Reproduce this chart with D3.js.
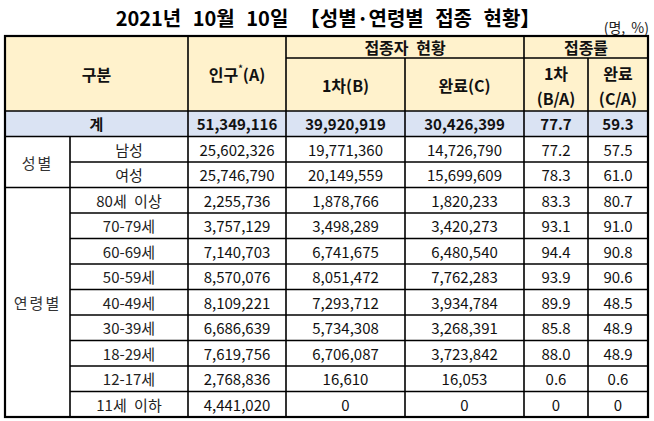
<!DOCTYPE html>
<html>
<head>
<meta charset="utf-8">
<script src="https://cdn.jsdelivr.net/npm/d3@7"></script>
<style>
  body { margin: 0; background: #fff; }
  text { font-family: "Noto Sans CJK KR", "Noto Sans", sans-serif; }
</style>
</head>
<body>
<svg id="tbl" width="654" height="421"></svg>
<script>
// Table values.
var groups = ['성별', '연령별'];
var groupSizes = [2, 9];
var categories = ['남성', '여성', '80세 이상', '70-79세', '60-69세', '50-59세',
  '40-49세', '30-39세', '18-29세', '12-17세', '11세 이하'];
var population = [25602326, 25746790, 2255736, 3757129, 7140703, 8570076,
  8109221, 6686639, 7619756, 2768836, 4441020];
var firstDose = [19771360, 20149559, 1878766, 3498289, 6741675, 8051472,
  7293712, 5734308, 6706087, 16610, 0];
var completed = [14726790, 15699609, 1820233, 3420273, 6480540, 7762283,
  3934784, 3268391, 3723842, 16053, 0];
var rateFirst = ['77.2', '78.3', '83.3', '93.1', '94.4', '93.9', '89.9', '85.8', '88.0', '0.6', '0'];
var rateDone = ['57.5', '61.0', '80.7', '91.0', '90.8', '90.6', '48.5', '48.9', '48.9', '0.6', '0'];
var total = { label: '계', population: 51349116, first: 39920919, done: 30426399, r1: '77.7', r2: '59.3' };

var svg = d3.select('#tbl');
var fmt = d3.format(',');

// Column edges and header row edges.
var cx = [5, 70, 188, 286, 405, 524, 588, 648];
var tblTop = 36, headMid = 58, headBot = 111, totBot = 136.5, tblBot = 417;

var y = d3.scaleBand()
  .domain(d3.range(categories.length))
  .range([totBot, tblBot]);

function mid(a, b) { return (a + b) / 2; }

// Header and total-row fills.
svg.append('rect').attr('x', cx[0]).attr('y', tblTop)
  .attr('width', cx[7] - cx[0]).attr('height', headBot - tblTop).attr('fill', '#fff2cc');
svg.append('rect').attr('x', cx[0]).attr('y', headBot)
  .attr('width', cx[7] - cx[0]).attr('height', totBot - headBot).attr('fill', '#dae3f3');

// Title.
svg.append('text').attr('x', 328).attr('y', 26).attr('text-anchor', 'middle')
  .attr('font-size', 20).attr('font-weight', 'bold').attr('fill', '#000')
  .attr('word-spacing', 7)
  .text('2021년 10월 10일 【성별·연령별 접종 현황】');
svg.append('text').attr('x', 649).attr('y', 33).attr('text-anchor', 'end')
  .attr('font-size', 14).attr('fill', '#222').attr('word-spacing', 3).text('(명, %)');

function cell(x0, x1, yc, str, bold, color) {
  return svg.append('text')
    .attr('x', mid(x0, x1)).attr('y', yc)
    .attr('text-anchor', 'middle').attr('dominant-baseline', 'central')
    .attr('font-size', 15).attr('font-weight', bold ? 'bold' : 'normal')
    .attr('fill', color || '#111').text(str);
}

// Header texts.
cell(cx[0], cx[2], mid(tblTop, headBot), '구분', true).attr('font-size', 16);
var pop = cell(cx[2], cx[3], mid(tblTop, headBot), null, true).attr('font-size', 16);
pop.append('tspan').text('인구');
pop.append('tspan').attr('font-size', 9).attr('dy', -6).text('*');
pop.append('tspan').attr('dy', 6).text('(A)');
cell(cx[3], cx[5], mid(tblTop, headMid), '접종자 현황', true).attr('font-size', 16).attr('word-spacing', 4);
cell(cx[5], cx[7], mid(tblTop, headMid), '접종률', true).attr('font-size', 16);
cell(cx[3], cx[4], mid(headMid, headBot), '1차(B)', true).attr('font-size', 16);
cell(cx[4], cx[5], mid(headMid, headBot), '완료(C)', true).attr('font-size', 16);
cell(cx[5], cx[6], mid(headMid, headBot) - 12, '1차', true).attr('font-size', 16);
cell(cx[5], cx[6], mid(headMid, headBot) + 13, '(B/A)', true).attr('font-size', 16);
cell(cx[6], cx[7], mid(headMid, headBot) - 12, '완료', true).attr('font-size', 16);
cell(cx[6], cx[7], mid(headMid, headBot) + 13, '(C/A)', true).attr('font-size', 16);

// Total row.
var ty = mid(headBot, totBot);
cell(cx[0], cx[2], ty, total.label, true);
cell(cx[2], cx[3], ty, fmt(total.population), true);
cell(cx[3], cx[4], ty, fmt(total.first), true);
cell(cx[4], cx[5], ty, fmt(total.done), true);
cell(cx[5], cx[6], ty, total.r1, true);
cell(cx[6], cx[7], ty, total.r2, true);

// Body rows.
categories.forEach(function(c, i) {
  var yc = y(i) + y.bandwidth() / 2;
  cell(cx[1], cx[2], yc, c, false, '#222').attr('word-spacing', 4);
  cell(cx[2], cx[3], yc, fmt(population[i]));
  cell(cx[3], cx[4], yc, fmt(firstDose[i]));
  cell(cx[4], cx[5], yc, fmt(completed[i]));
  cell(cx[5], cx[6], yc, rateFirst[i]);
  cell(cx[6], cx[7], yc, rateDone[i]);
});

// Group labels spanning rows.
var start = 0;
var groupStarts = [];
groups.forEach(function(g, k) {
  var y0 = y(start), y1 = y(start + groupSizes[k] - 1) + y.bandwidth();
  groupStarts.push(start);
  cell(cx[0], cx[1], mid(y0, y1), g, false, '#333').attr('letter-spacing', 2);
  start += groupSizes[k];
});

// Grid lines.
var lines = svg.append('g').attr('stroke', '#000').attr('stroke-width', 1.6);
function hline(x0, x1, yy) {
  lines.append('line').attr('x1', x0).attr('x2', x1).attr('y1', yy).attr('y2', yy);
}
function vline(xx, y0, y1) {
  lines.append('line').attr('x1', xx).attr('x2', xx).attr('y1', y0).attr('y2', y1);
}
hline(cx[3], cx[7], headMid);
hline(cx[0], cx[7], headBot);
hline(cx[0], cx[7], totBot);
d3.range(1, categories.length).forEach(function(i) {
  var x0 = groupStarts.indexOf(i) >= 0 ? cx[0] : cx[1];
  hline(x0, cx[7], y(i));
});
vline(cx[1], totBot, tblBot);
vline(cx[2], tblTop, tblBot);
vline(cx[3], tblTop, tblBot);
vline(cx[4], headMid, tblBot);
vline(cx[5], tblTop, tblBot);
vline(cx[6], headMid, tblBot);

svg.append('rect').attr('x', cx[0]).attr('y', tblTop)
  .attr('width', cx[7] - cx[0]).attr('height', tblBot - tblTop)
  .attr('fill', 'none').attr('stroke', '#000').attr('stroke-width', 2.2);
</script>
</body>
</html>
